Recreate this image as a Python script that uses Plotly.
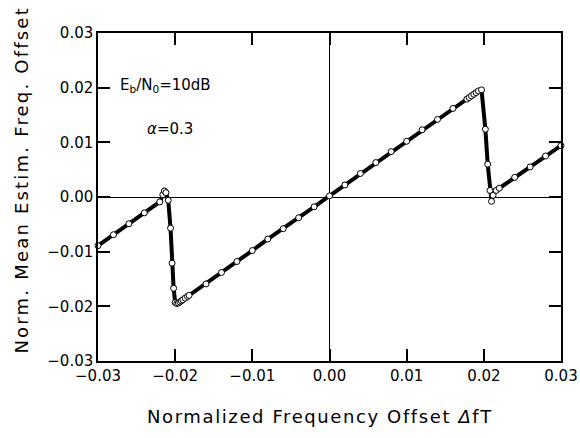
import plotly.graph_objects as go

# Normalized frequency offset (dfT) and mean normalized estimated offset
offset_x = [
    -0.0300, -0.0280, -0.0260, -0.0240, -0.0220,
    -0.0216, -0.0214, -0.0212, -0.0209, -0.0206, -0.0204, -0.0202, -0.0200,
    -0.0198, -0.0196, -0.0194, -0.0192, -0.0190, -0.0187, -0.0184, -0.0182,
    -0.0160, -0.0140, -0.0120, -0.0100, -0.0080, -0.0060, -0.0040, -0.0020,
    0.0000, 0.0020, 0.0040, 0.0060, 0.0080, 0.0100, 0.0120, 0.0140, 0.0160,
    0.0178, 0.0181, 0.0184, 0.0187, 0.0190, 0.0193, 0.0197,
    0.0202, 0.0205, 0.0208, 0.0210, 0.0212, 0.0216, 0.0220,
    0.0240, 0.0260, 0.0280, 0.0300,
]
mean_estimate = [
    -0.0089, -0.0069, -0.0049, -0.0029, -0.0009,
    0.0004, 0.0011, 0.0008, -0.0006, -0.0057, -0.0121, -0.0167, -0.0193,
    -0.0195, -0.0194, -0.0192, -0.0190, -0.0188, -0.0185, -0.0182, -0.0180,
    -0.0159, -0.0138, -0.0118, -0.0098, -0.0077, -0.0058, -0.0038, -0.0018,
    0.0002, 0.0022, 0.0043, 0.0063, 0.0083, 0.0102, 0.0123, 0.0142, 0.0162,
    0.0179, 0.0182, 0.0185, 0.0188, 0.0191, 0.0194, 0.0196,
    0.0124, 0.0060, 0.0012, -0.0008, 0.0003, 0.0012, 0.0016,
    0.0036, 0.0055, 0.0075, 0.0094,
]

tick_vals = [-0.03, -0.02, -0.01, 0.00, 0.01, 0.02, 0.03]
tick_text = ["\u22120.03", "\u22120.02", "\u22120.01", "0.00", "0.01", "0.02", "0.03"]

font_family = "DejaVu Sans"

fig = go.Figure()
fig.add_trace(go.Scatter(
    x=offset_x,
    y=mean_estimate,
    mode="lines+markers",
    line=dict(color="black", width=4),
    marker=dict(size=6, color="white", line=dict(color="black", width=1)),
    showlegend=False,
    cliponaxis=False,
))

axis_common = dict(
    range=[-0.03, 0.03],
    tickvals=tick_vals,
    ticktext=tick_text,
    ticks="inside",
    ticklen=12,
    tickwidth=1.5,
    tickcolor="black",
    showline=True,
    linecolor="black",
    linewidth=1.5,
    mirror="ticks",
    showgrid=False,
    zeroline=True,
    zerolinecolor="black",
    zerolinewidth=1,
    automargin=False,
    tickfont=dict(family=font_family, size=15, color="black"),
)

fig.update_xaxes(**axis_common)
fig.update_yaxes(**axis_common)

fig.update_layout(
    width=580,
    height=438,
    margin=dict(l=98, r=19, t=33, b=77),
    plot_bgcolor="white",
    paper_bgcolor="white",
    font=dict(family=font_family, color="black"),
    annotations=[
        dict(
            text='<span style="letter-spacing:1.6px">Normalized Frequency Offset <i>\u0394</i>fT</span>',
            xref="paper", yref="paper", x=0.479, y=-0.168,
            xanchor="center", yanchor="middle", showarrow=False,
            font=dict(family=font_family, size=18, color="black"),
        ),
        dict(
            text='<span style="letter-spacing:2.2px">Norm. Mean Estim. Freq. Offset</span>',
            xref="paper", yref="paper", x=-0.165, y=0.552,
            xanchor="center", yanchor="middle", showarrow=False, textangle=-90,
            font=dict(family=font_family, size=18, color="black"),
        ),
        dict(
            text="E<sub>b</sub>/N<sub>0</sub>=10dB",
            xref="x", yref="y", x=-0.0274, y=0.0204,
            xanchor="left", yanchor="middle", showarrow=False,
            font=dict(family=font_family, size=15, color="black"),
        ),
        dict(
            text="<i>\u03b1</i>=0.3",
            xref="x", yref="y", x=-0.0239, y=0.0125,
            xanchor="left", yanchor="middle", showarrow=False,
            font=dict(family=font_family, size=15, color="black"),
        ),
    ],
)

fig.write_html("out.html")
